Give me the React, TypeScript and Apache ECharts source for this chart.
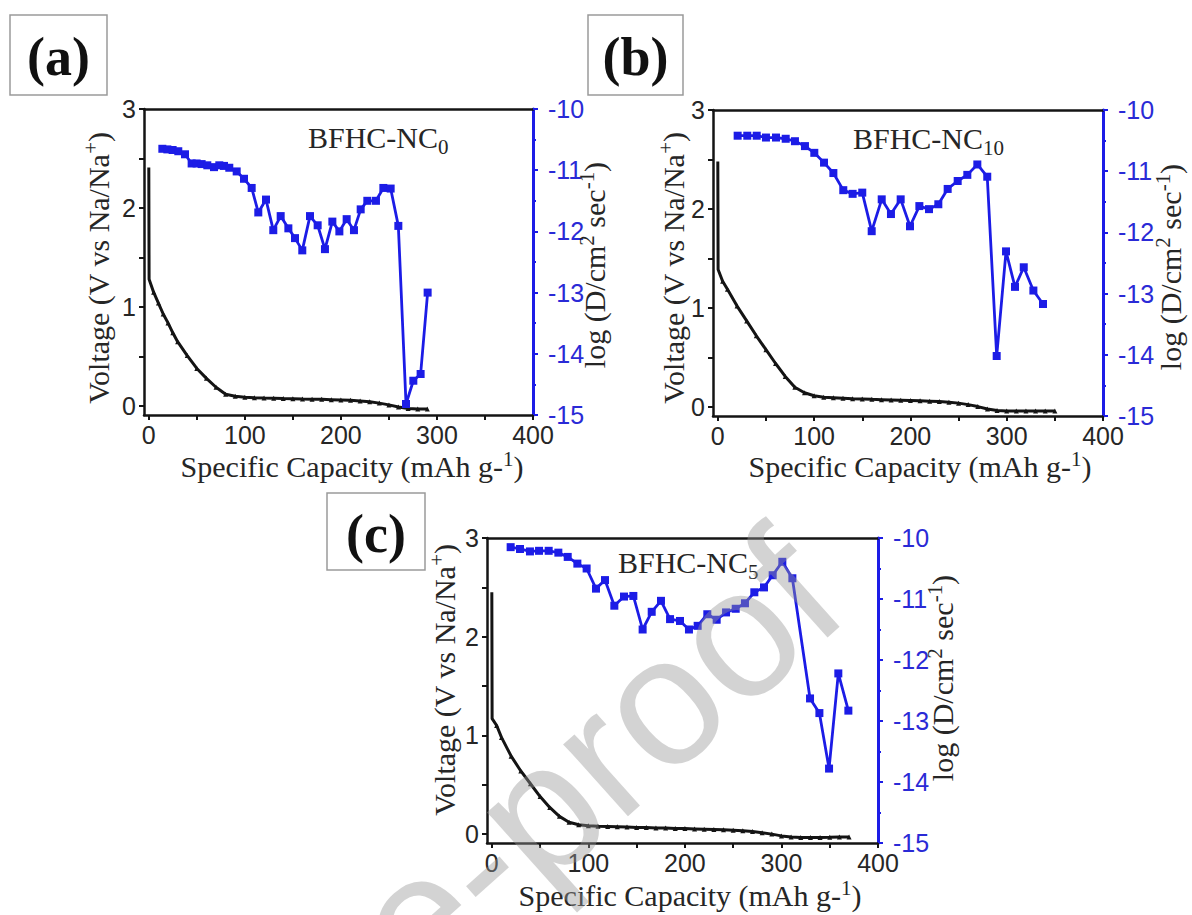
import React, { useEffect, useRef } from 'react';
import * as echarts from 'echarts';

// ---------- data ----------
const capTicks = [0, 50, 100, 150, 200, 250, 300, 350, 400];
const capLabels = [0, 100, 200, 300, 400];
const voltTicks = [0, 0.5, 1, 1.5, 2, 2.5, 3];
const voltLabels = [0, 1, 2, 3];

const panelLetters = ['(a)', '(b)', '(c)'];
const sampleNames = ['BFHC-NC{sub|0}', 'BFHC-NC{sub|10}', 'BFHC-NC{sub|5}'];

// voltage profiles (specific capacity, voltage)
const capA = [0, 0.3, 5, 10, 15, 20, 25, 30, 40, 50, 60, 70, 80, 90, 100, 110, 120, 130, 140, 150, 160, 170, 180, 190, 200, 210, 220, 230, 240, 250, 260, 270, 280, 290];
const voltA = [2.41, 1.28, 1.15, 1.04, 0.93, 0.84, 0.74, 0.65, 0.51, 0.38, 0.28, 0.19, 0.12, 0.1, 0.09, 0.085, 0.082, 0.08, 0.077, 0.075, 0.072, 0.07, 0.068, 0.065, 0.062, 0.058, 0.052, 0.043, 0.03, 0.012, -0.01, -0.025, -0.03, -0.03];

const capB = [0, 0.3, 5, 10, 20, 30, 40, 50, 60, 70, 80, 90, 100, 110, 120, 130, 140, 150, 160, 170, 180, 190, 200, 210, 220, 230, 240, 250, 260, 270, 280, 290, 300, 310, 320, 330, 340, 350];
const voltB = [2.48, 1.39, 1.27, 1.19, 1.02, 0.87, 0.72, 0.58, 0.44, 0.31, 0.2, 0.145, 0.115, 0.1, 0.095, 0.09, 0.085, 0.082, 0.078, 0.075, 0.072, 0.069, 0.066, 0.063, 0.06, 0.056, 0.05, 0.04, 0.025, 0.005, -0.02, -0.035, -0.04, -0.04, -0.04, -0.04, -0.04, -0.04];

const capC = [0, 0.3, 5, 10, 20, 30, 40, 50, 60, 70, 80, 90, 100, 110, 120, 130, 140, 150, 160, 170, 180, 190, 200, 210, 220, 230, 240, 250, 260, 270, 280, 290, 300, 310, 320, 330, 340, 350, 360, 370];
const voltC = [2.45, 1.17, 1.1, 0.98, 0.79, 0.64, 0.51, 0.38, 0.27, 0.18, 0.12, 0.095, 0.085, 0.08, 0.077, 0.074, 0.071, 0.068, 0.066, 0.063, 0.061, 0.058, 0.056, 0.053, 0.05, 0.047, 0.044, 0.04, 0.034, 0.026, 0.014, 0, -0.018, -0.03, -0.035, -0.035, -0.035, -0.033, -0.03, -0.03];

// diffusion coefficients (specific capacity, log D)
const dCapA = [14.1, 19.3, 24.8, 30.7, 37.7, 44.6, 49.8, 55.0, 60.9, 67.9, 73.4, 78.3, 83.8, 91.5, 99.1, 107.1, 114.0, 122.0, 129.6, 137.3, 145.3, 152.2, 159.8, 167.8, 175.8, 183.4, 191.1, 198.4, 206.0, 213.6, 220.6, 227.5, 236.5, 244.2, 251.8, 259.8, 267.8, 275.4, 283.0, 290.3];
const dLogA = [-10.65, -10.66, -10.67, -10.69, -10.74, -10.89, -10.89, -10.9, -10.92, -10.95, -10.92, -10.93, -10.96, -11.02, -11.14, -11.29, -11.69, -11.48, -11.98, -11.75, -11.95, -12.11, -12.31, -11.75, -11.9, -12.29, -11.84, -12.0, -11.8, -11.98, -11.64, -11.5, -11.5, -11.29, -11.3, -11.91, -14.82, -14.44, -14.33, -13.0];

const dCapB = [20.6, 30.6, 40.4, 50.0, 60.4, 70.5, 80.1, 90.5, 100.2, 110.3, 120.0, 130.3, 140.0, 150.0, 159.8, 170.2, 179.8, 189.9, 199.6, 209.3, 219.3, 229.0, 238.7, 249.1, 259.1, 269.5, 279.8, 289.6, 299.3, 308.6, 317.7, 327.7, 337.7];
const dLogB = [-10.42, -10.42, -10.42, -10.45, -10.45, -10.47, -10.51, -10.59, -10.7, -10.86, -11.03, -11.31, -11.37, -11.35, -11.98, -11.46, -11.7, -11.46, -11.9, -11.57, -11.62, -11.54, -11.29, -11.16, -11.06, -10.89, -11.09, -14.02, -12.31, -12.89, -12.57, -12.95, -13.17];

const dCapC = [19.5, 29.2, 39.5, 48.9, 58.9, 68.9, 78.6, 88.6, 98.2, 107.9, 117.2, 126.9, 136.9, 146.6, 156.2, 165.6, 175.2, 184.6, 194.9, 204.2, 213.2, 223.2, 232.9, 242.6, 252.6, 262.2, 271.9, 281.9, 290.9, 300.9, 311.3, 329.6, 339.3, 349.3, 358.9, 369.3];
const dLogC = [-10.15, -10.18, -10.22, -10.21, -10.21, -10.24, -10.31, -10.42, -10.5, -10.83, -10.69, -11.11, -10.96, -10.95, -11.5, -11.21, -11.03, -11.33, -11.36, -11.5, -11.44, -11.25, -11.34, -11.22, -11.16, -11.07, -10.89, -10.81, -10.61, -10.39, -10.66, -12.63, -12.87, -13.78, -12.22, -12.83];

// ---------- styling / layout ----------
const BLUE = '#1c1ce6';
const BLUE_TXT = '#2a2ad6';
const INK = '#141414';
const TXT = '#262626';
const SERIF = '"Liberation Serif", "Times New Roman", serif';
const SANS = '"Liberation Sans", Arial, sans-serif';

const layouts = [
  { grid: { left: 144, top: 109, width: 389, height: 306 }, box: [10, 15, 97, 80], leftTitle: [98, 268], rightTitle: [594, 265], xTitle: [352, 466], note: [308, 137] },
  { grid: { left: 713, top: 110, width: 390, height: 306 }, box: [588, 15, 95, 80], leftTitle: [673, 268], rightTitle: [1170, 267], xTitle: [920, 466], note: [853, 138] },
  { grid: { left: 487, top: 538, width: 391, height: 305 }, box: [327, 493, 98, 77], leftTitle: [444, 680], rightTitle: [942, 678], xTitle: [690, 895], note: [618, 562] },
];

const profiles = [
  { cap: capA, volt: voltA, dcap: dCapA, dlog: dLogA },
  { cap: capB, volt: voltB, dcap: dCapB, dlog: dLogB },
  { cap: capC, volt: voltC, dcap: dCapC, dlog: dLogC },
];

const supRich = {
  sup: { fontSize: 21, lineHeight: 20, verticalAlign: 'top', fontFamily: SERIF, fill: TXT },
};
const subRich = {
  sub: { fontSize: 21, lineHeight: 21, verticalAlign: 'bottom', fontFamily: SERIF, fill: TXT },
};

function titleText(x: number, y: number, text: string, rotation: number) {
  return {
    type: 'text',
    x,
    y,
    rotation,
    z: 50,
    style: {
      text,
      fontSize: 30,
      fontFamily: SERIF,
      fill: TXT,
      lineHeight: 36,
      align: 'center',
      verticalAlign: 'middle',
      textAlign: 'center',
      textVerticalAlign: 'middle',
      rich: supRich,
    },
  };
}

function buildOption() {
  const grids: any[] = [];
  const xAxes: any[] = [];
  const yAxes: any[] = [];
  const series: any[] = [];
  const elements: any[] = [];

  layouts.forEach((L, i) => {
    const P = profiles[i];
    grids.push({ ...L.grid, containLabel: false });

    xAxes.push({
      type: 'value',
      gridIndex: i,
      position: 'bottom',
      min: -5,
      max: 400,
      axisLine: { show: true, onZero: false, lineStyle: { color: INK, width: 2.5 } },
      axisTick: { show: true, inside: false, length: 5, customValues: capTicks, lineStyle: { color: INK, width: 2 } },
      axisLabel: { customValues: capLabels, fontSize: 25, fontFamily: SANS, color: TXT, margin: 7 },
      splitLine: { show: false },
    });
    xAxes.push({
      type: 'value',
      gridIndex: i,
      position: 'top',
      min: -5,
      max: 400,
      axisLine: { show: true, onZero: false, lineStyle: { color: INK, width: 2.5 } },
      axisTick: { show: false },
      axisLabel: { show: false },
      splitLine: { show: false },
    });

    yAxes.push({
      type: 'value',
      gridIndex: i,
      position: 'left',
      min: -0.09,
      max: 3,
      axisLine: { show: true, onZero: false, lineStyle: { color: INK, width: 2.5 } },
      axisTick: { show: true, inside: false, length: 5, customValues: voltTicks, lineStyle: { color: INK, width: 2 } },
      axisLabel: { customValues: voltLabels, fontSize: 25, fontFamily: SANS, color: TXT, margin: 8 },
      splitLine: { show: false },
    });
    yAxes.push({
      type: 'value',
      gridIndex: i,
      position: 'right',
      min: -15,
      max: -10,
      interval: 1,
      axisLine: { show: true, onZero: false, lineStyle: { color: BLUE, width: 3 } },
      axisTick: { show: true, inside: false, length: 5, lineStyle: { color: BLUE, width: 2 } },
      minorTick: { show: true, splitNumber: 2, length: 3, lineStyle: { color: BLUE, width: 2 } },
      axisLabel: { fontSize: 25, fontFamily: SANS, color: BLUE_TXT, margin: 15 },
      splitLine: { show: false },
      minorSplitLine: { show: false },
    });

    series.push({
      type: 'line',
      xAxisIndex: 2 * i,
      yAxisIndex: 2 * i,
      data: P.cap.map((c, k) => (k < 2 ? { value: [c, P.volt[k]], symbol: 'none' } : [c, P.volt[k]])),
      symbol: 'triangle',
      symbolSize: 5,
      showSymbol: true,
      lineStyle: { color: INK, width: 3 },
      itemStyle: { color: INK },
      z: 3,
    });
    series.push({
      type: 'line',
      xAxisIndex: 2 * i,
      yAxisIndex: 2 * i + 1,
      data: P.dcap.map((c, k) => [c, P.dlog[k]]),
      symbol: 'rect',
      symbolSize: 8,
      showSymbol: true,
      lineStyle: { color: BLUE, width: 2.8 },
      itemStyle: { color: BLUE },
      z: 4,
    });

    // panel letter box
    const [bx, by, bw, bh] = L.box;
    elements.push({
      type: 'rect',
      shape: { x: bx, y: by, width: bw, height: bh },
      style: { fill: '#fff', stroke: '#9a9a9a', lineWidth: 1.5 },
      z: 40,
    });
    elements.push({
      type: 'text',
      x: bx + bw / 2,
      y: by + bh / 2 + 2,
      z: 41,
      style: {
        text: panelLetters[i],
        fontSize: 54,
        fontWeight: 'bold',
        fontFamily: SERIF,
        fill: '#111',
        align: 'center',
        verticalAlign: 'middle',
        textAlign: 'center',
        textVerticalAlign: 'middle',
      },
    });

    // axis titles
    elements.push(titleText(L.xTitle[0], L.xTitle[1], 'Specific Capacity (mAh g-{sup|1})', 0));
    elements.push(titleText(L.leftTitle[0], L.leftTitle[1], 'Voltage (V vs Na/Na{sup|+})', Math.PI / 2));
    elements.push(titleText(L.rightTitle[0], L.rightTitle[1], 'log (D/cm{sup|2} sec{sup|-1})', Math.PI / 2));

    // sample name
    elements.push({
      type: 'text',
      x: L.note[0],
      y: L.note[1],
      z: 45,
      style: {
        text: sampleNames[i],
        fontSize: 30,
        fontFamily: SERIF,
        fill: TXT,
        lineHeight: 40,
        align: 'left',
        verticalAlign: 'middle',
        textAlign: 'left',
        textVerticalAlign: 'middle',
        rich: subRich,
      },
    });
  });

  // watermark
  elements.push({
    type: 'text',
    x: 811,
    y: 567,
    rotation: 0.73,
    z: 100,
    silent: true,
    style: {
      text: 'Journal Pre-proof',
      fontSize: 183,
      fontFamily: SANS,
      fill: 'rgba(150,150,150,0.42)',
      align: 'right',
      verticalAlign: 'middle',
      textAlign: 'right',
      textVerticalAlign: 'middle',
    },
  });

  return {
    animation: false,
    backgroundColor: '#ffffff',
    grid: grids,
    xAxis: xAxes,
    yAxis: yAxes,
    series,
    graphic: { elements },
  };
}

export default function App() {
  const ref = useRef<HTMLDivElement>(null);
  useEffect(() => {
    if (!ref.current) return;
    const chart = echarts.init(ref.current, undefined, { renderer: 'svg', width: 1192, height: 915 });
    chart.setOption(buildOption() as any);
    return () => chart.dispose();
  }, []);
  return (
    <div
      ref={ref}
      style={{ position: 'absolute', left: 0, top: 0, width: 1192, height: 915, background: '#fff' }}
    />
  );
}
